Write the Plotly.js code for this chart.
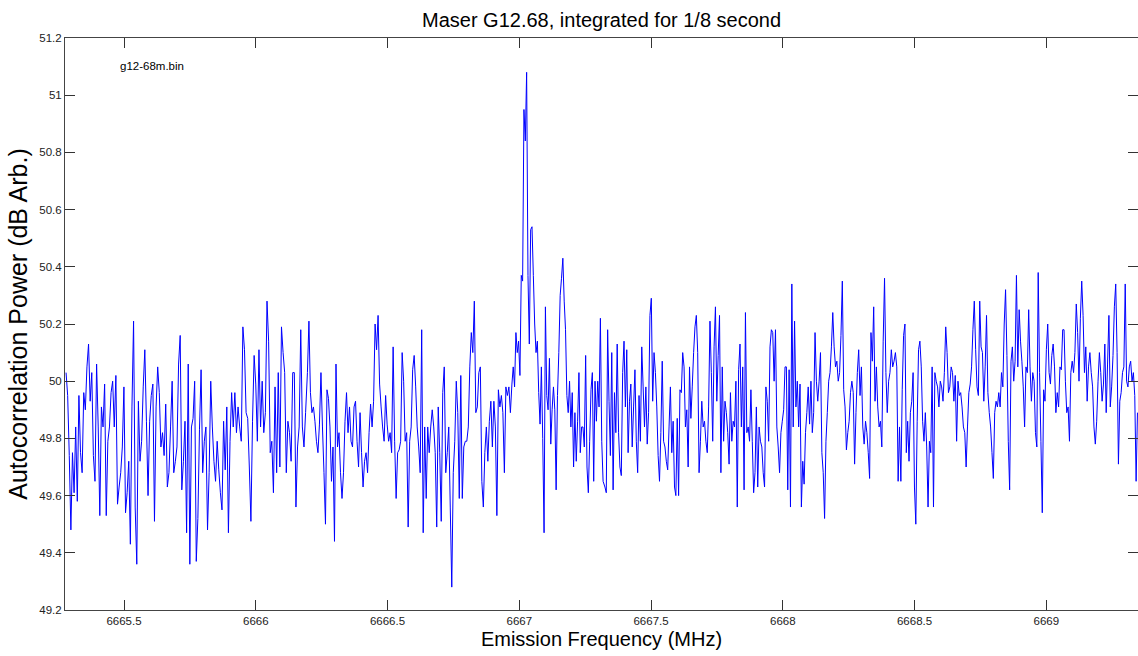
<!DOCTYPE html>
<html>
<head>
<meta charset="utf-8">
<script src="https://cdn.plot.ly/plotly-3.0.1.min.js"></script>
<style>
html,body{margin:0;padding:0;background:#fff;overflow:hidden;}
#chart{width:1138px;height:656px;}
</style>
</head>
<body>
<div id="chart"></div>
<script>
// Frequency span (MHz) of each traced segment of the spectrum
const segStartMHz = [6665.280, 6666.196, 6666.977, 6667.325, 6668.350];
const segEndMHz   = [6666.189, 6666.972, 6667.318, 6668.345, 6669.346];

// Autocorrelation power (dB arb.), segment by segment
const powerA1 = [50.03,49.95,49.74,49.48,49.75,49.61,49.84,49.58,49.95,49.75,49.68,49.96,49.90,50.05,50.13,49.93,50.03,49.74,49.65,50.06,49.84,49.53,49.91,49.84,49.99,49.53,49.79,49.84,49.96,50.00,49.84,50.02,49.57,49.63,49.68,49.77,49.98,49.54,49.61,49.72,49.43,49.91,50.21,49.56,49.36,49.93,49.72,49.79,49.98,50.11,49.86,49.60,49.86,49.95,49.99,49.51,49.91,50.05,49.96,49.77,49.82,49.74,49.92,49.63,49.68,49.84,50.00,49.68,49.72,49.77,50.06,50.16,49.62,49.72,49.86,49.47,50.06,49.36,49.84,49.87,50.00,49.37,49.52,49.83,50.04,49.68,49.79,49.84,49.48,49.68,50.00,49.84,49.72,49.65,49.79,49.69,49.61,49.55,49.86,49.69,49.91,49.47,49.79,49.96,49.84,49.96,49.82,49.91,49.84,49.79,50.19,50.11,49.89,49.87,49.70,49.51,49.86,50.09,49.99,49.79,50.11,49.84,50.00,49.82,49.89,50.28,50.14,49.75,49.79,49.61,49.98,49.68,50.03,49.70,50.19,50.10,50.03,49.68,49.86,49.82,49.72,50.03,50.03,49.56,49.77,49.84,50.18,49.84,49.77,49.89];
const powerA2 = [50.03,50.21,49.96,49.89,49.91,49.86,49.79,49.75,49.85,50.03,49.84,49.68,49.50,49.97,49.94,49.84,49.65,49.77,49.44,50.06,49.77,49.82,49.68,49.59,49.68,49.86,49.96,49.82,49.91,49.79,49.77,49.91,49.93,49.79,49.70,49.89,49.75,49.63,49.72,49.75,49.68,49.82,49.92,49.84,49.93,50.20,50.11,50.23,49.99,49.91,49.84,49.79,49.95,49.85,49.79,49.82,49.75,50.12,49.79,49.59,49.75,49.76,49.79,50.10,50.00,49.79,49.82,49.49,49.79,49.84,50.04,50.09,49.98,49.84,49.77,49.68,50.18,49.47,49.84,49.59,49.84,49.75,49.84,49.90,49.84,49.75,49.49,49.91,49.75,49.51,49.96,50.05,49.68,49.75,49.84,49.56,49.28,49.68,49.79,50.00,49.89,49.59,50.02,49.59,49.77,49.79,49.79,49.84,50.05,50.17,50.10,50.28,49.89,49.91,50.03,50.05,49.65,49.56,49.75,49.84,49.72,49.86,49.93,49.77,49.93,49.84,49.53,49.97,49.91,49.95,49.89,49.68,49.98,49.95,49.98,49.89,49.99];
const powerB = [50.05,49.98,50.17,50.10,50.14,50.02,50.37,50.35,50.95,50.84,51.08,50.37,50.13,50.53,50.54,50.37,50.20,50.10,50.14,49.96,49.85,50.05,49.80,49.47,50.26,49.95,49.90,50.08,49.78,49.90,49.98,49.90,49.62,49.95,50.10,50.30,50.36,50.43,50.28,50.18,49.95,49.89,50.00,49.84,49.96,49.70,49.89,49.72,49.86,50.03,49.75,49.84,49.84,49.77,50.09,49.70,49.61,49.79,49.97,50.03,49.65,50.00,49.86,50.00,49.91,50.22,49.79,49.65];
const powerC1 = [49.63,49.61,50.18,49.93,49.74,50.10,49.62,49.96,49.82,50.13,49.82,49.70,49.67,50.03,50.14,49.91,50.11,49.75,49.93,49.99,49.77,49.91,50.04,49.79,49.68,49.95,49.79,50.12,49.98,49.84,49.98,49.78,49.89,50.23,50.29,49.93,50.10,50.03,49.91,49.74,49.65,49.82,50.07,49.79,49.77,49.72,49.69,49.84,49.98,49.75,49.86,49.63,49.60,49.87,49.60,49.97,49.96,50.10,50.05,49.84,49.90,49.70,50.05,49.87,49.98,50.10,50.19,50.23,50.10,49.68,49.79,49.93,49.84,49.86,49.79,49.75,49.91,50.21,50.03,49.79,50.12,50.26,49.93,50.09,50.23,49.68,50.05,49.79,49.93,49.89,49.82,49.71,49.96,49.79,49.86,49.84,50.00,49.56,50.04,50.13,49.84,50.05,49.62,50.24,49.82,49.84,49.79,49.97,49.79,49.61,49.68,49.91,49.63,49.84,49.79,49.77,49.68,49.63,49.98,49.93,49.79,50.12,50.18,50.17,50.00,50.18,49.84,49.77,49.68,49.82,49.86,49.90,50.05,50.05,49.62,50.04,49.56,50.34,49.84,50.21,49.91,50.00,49.84,49.99,49.56,49.72,49.64,49.82,49.89,49.98,49.85,50.00,49.82,49.89,50.17,50.00,49.93,50.00,50.10,49.75,49.68,49.52,49.79,49.89,50.00,50.03,50.12,50.24,50.12,50.05,50.07,50.00,50.03,50.16,50.35,49.97,49.91,49.76,49.82,49.86,49.96,50.00,49.96,49.71,49.89,50.03,50.11,49.95,50.05,49.84,49.78,49.86,49.82,49.75,49.66,50.17,50.07,50.26];
const powerC2 = [49.93,50.05,49.91,49.84,49.86,49.77,50.14,50.36,50.03,49.89,50.00,50.03,50.11,50.05,50.07,50.10,50.05,49.65,49.84,49.65,49.97,50.16,50.20,49.75,49.86,49.72,49.89,49.93,50.03,49.63,49.50,49.86,50.11,50.14,50.05,49.86,49.79,49.89,49.77,49.56,49.79,49.75,50.05,49.56,50.03,50.00,49.98,49.91,50.00,49.98,49.93,50.03,50.19,50.10,49.96,49.98,50.05,50.03,49.93,50.02,49.79,50.00,49.95,49.96,49.91,49.84,49.82,49.70,49.84,49.96,49.99,50.05,50.18,50.28,50.11,49.98,49.95,50.28,50.12,50.10,49.93,50.05,50.23,49.96,49.89,49.84,49.75,49.66,49.89,49.93,49.91,49.96,49.91,50.03,49.98,50.20,50.32,50.09,49.79,49.62,50.07,50.12,50.00,50.07,50.37,50.05,50.25,50.14,50.07,49.98,49.84,50.05,50.03,50.25,50.05,49.93,50.03,50.00,49.82,49.77,50.38,50.03,49.79,49.54,49.97,49.93,50.11,50.20,50.03,49.99,50.09,50.13,50.05,49.89,49.96,49.91,50.05,50.04,50.18,50.18,50.00,49.89,49.91,49.79,50.03,50.07,50.03,50.10,50.27,50.17,50.00,50.22,50.35,50.23,50.03,50.12,49.93,50.05,50.10,50.03,49.98,49.84,49.78,49.86,50.00,50.10,50.03,49.93,49.99,50.13,49.89,50.06,50.23,49.91,49.98,50.09,50.26,50.34,50.10,49.71,49.93,49.96,50.03,50.05,50.34,50.00,49.98,50.05,50.07,50.00,50.03,49.95,49.65,49.89];

const xTickVals = [6665.5, 6666, 6666.5, 6667, 6667.5, 6668, 6668.5, 6669];
const xTickText = ['6665.5', '6666', '6666.5', '6667', '6667.5', '6668', '6668.5', '6669'];
const yTickVals = [49.2, 49.4, 49.6, 49.8, 50, 50.2, 50.4, 50.6, 50.8, 51, 51.2];
const yTickText = ['49.2', '49.4', '49.6', '49.8', '50', '50.2', '50.4', '50.6', '50.8', '51', '51.2'];

const segments = [powerA1, powerA2, powerB, powerC1, powerC2];
const freq = [];
const power = [];
segments.forEach(function (seg, k) {
  const n = seg.length;
  const f0 = segStartMHz[k], f1 = segEndMHz[k];
  for (let i = 0; i < n; i++) {
    freq.push(n > 1 ? f0 + (f1 - f0) * i / (n - 1) : f0);
    power.push(seg[i]);
  }
});

const trace = {
  x: freq,
  y: power,
  type: 'scatter',
  mode: 'lines',
  line: {color: '#0000ff', width: 1, simplify: false},
  hoverinfo: 'skip'
};

const axisCommon = {
  showline: true,
  linecolor: '#444',
  linewidth: 1,
  mirror: 'ticks',
  ticks: 'inside',
  ticklen: 10,
  tickwidth: 1,
  tickcolor: '#333',
  showgrid: false,
  zeroline: false,
  automargin: false,
  tickfont: {family: 'Liberation Sans, Arial, sans-serif', size: 11.5, color: '#222'}
};

const layout = {
  width: 1138,
  height: 656,
  margin: {l: 65, r: 0, t: 38, b: 46},
  paper_bgcolor: '#ffffff',
  plot_bgcolor: '#ffffff',
  font: {family: 'Liberation Sans, Arial, sans-serif', color: '#000'},
  showlegend: false,
  title: {
    text: 'Maser G12.68, integrated for 1/8 second',
    font: {size: 20, color: '#000'},
    xref: 'container', yref: 'container',
    x: 0.5286, xanchor: 'center',
    y: 0.97, yanchor: 'middle'
  },
  xaxis: Object.assign({}, axisCommon, {
    range: [6665.276, 6669.348],
    tickmode: 'array',
    tickvals: xTickVals,
    ticktext: xTickText,
    title: {text: 'Emission Frequency (MHz)', font: {size: 20, color: '#000'}, standoff: 6}
  }),
  yaxis: Object.assign({}, axisCommon, {
    range: [49.2, 51.2],
    tickmode: 'array',
    tickvals: yTickVals,
    ticktext: yTickText,
    title: {text: 'Autocorrelation Power (dB Arb.)', font: {size: 25, color: '#000'}, standoff: 4}
  }),
  annotations: [{
    text: 'g12-68m.bin',
    xref: 'paper', yref: 'paper',
    x: 0.0494, y: 0.951,
    xanchor: 'left', yanchor: 'middle',
    showarrow: false,
    font: {size: 11.5, color: '#000'}
  }]
};

Plotly.newPlot('chart', [trace], layout, {displayModeBar: false, staticPlot: true});
</script>
</body>
</html>
